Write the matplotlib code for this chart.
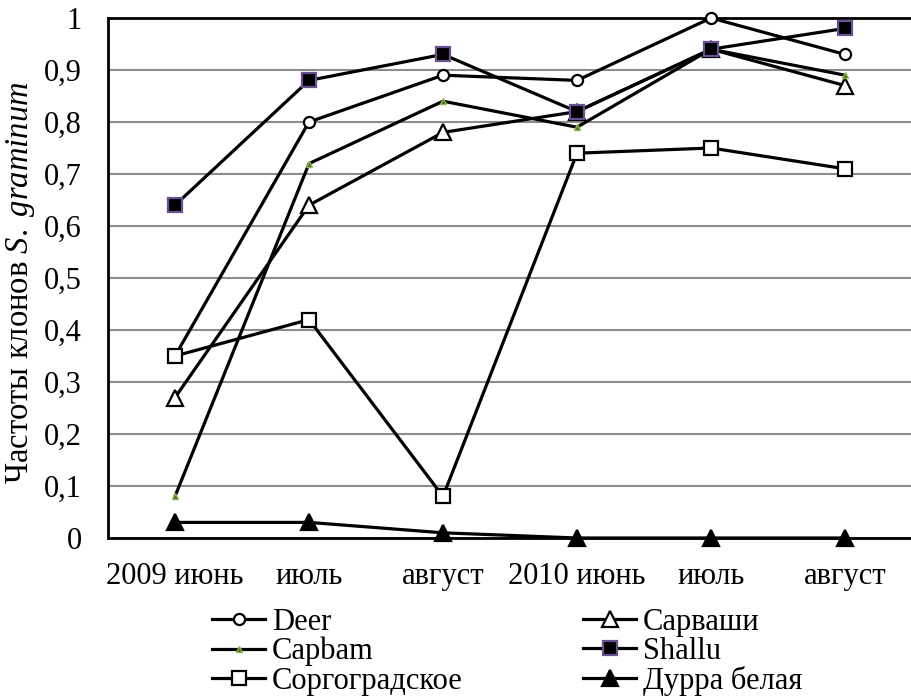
import matplotlib
matplotlib.use("Agg")
import matplotlib.pyplot as plt
from matplotlib.ticker import FixedLocator, FuncFormatter

plt.rcParams['font.family'] = 'serif'
plt.rcParams['font.serif'] = ['Liberation Serif', 'DejaVu Serif']
plt.rcParams['mathtext.fontset'] = 'custom'
plt.rcParams['mathtext.rm'] = 'Liberation Serif'
plt.rcParams['mathtext.it'] = 'Liberation Serif:italic'

categories = ['2009 июнь', 'июль', 'август', '2010 июнь', 'июль', 'август']
deer = [0.35, 0.80, 0.89, 0.88, 1.00, 0.93]
sarvashi = [0.27, 0.64, 0.78, 0.82, 0.94, 0.87]
capbam = [0.08, 0.72, 0.84, 0.79, 0.94, 0.89]
shallu = [0.64, 0.88, 0.93, 0.82, 0.94, 0.98]
sorgo = [0.35, 0.42, 0.08, 0.74, 0.75, 0.71]
durra = [0.03, 0.03, 0.01, 0.00, 0.00, 0.00]
yticks = [0, 0.1, 0.2, 0.3, 0.4, 0.5, 0.6, 0.7, 0.8, 0.9, 1.0]

FS = 22
fig = plt.figure(figsize=(9.12, 6.97), dpi=100)
ax = fig.add_axes([108/912, 1-538/697, 1-108/912, (538-18)/697])
x = list(range(len(categories)))
lw = 2.3

common = dict(color='black', lw=lw, zorder=3, clip_on=False)
l_deer, = ax.plot(x, deer, marker='o', ms=8, mfc='white', mec='black', mew=1.6, label='Deer', **common)
l_sar, = ax.plot(x, sarvashi, marker='^', ms=11, mfc='white', mec='black', mew=1.6, label='Сарваши', **common)
l_cap, = ax.plot(x, capbam, marker='^', ms=4.5, mfc='#4a6a20', mec='#8ab84a', mew=1, label='Capbam', **common)
l_sha, = ax.plot(x, shallu, marker='s', ms=10, mfc='black', mec='#6a5090', mew=1.6, label='Shallu', **common)
l_sor, = ax.plot(x, sorgo, marker='s', ms=10.5, mfc='white', mec='black', mew=1.6, label='Соргоградское', **common)
l_dur, = ax.plot(x, durra, marker='^', ms=11, mfc='black', mec='black', mew=1.6, label='Дурра белая', **common)

ax.set_xlim(-0.5, len(categories) - 0.5)
ax.set_ylim(0, 1)
ax.set_xticks(x)
ax.set_xticklabels(categories)
ax.yaxis.set_major_locator(FixedLocator(yticks))
def fmt(v, pos):
    if abs(v) < 1e-9:
        return '0'
    if abs(v - 1) < 1e-9:
        return '1'
    return ('%.1f' % v).replace('.', ',')
ax.yaxis.set_major_formatter(FuncFormatter(fmt))
ax.tick_params(axis='both', length=0, labelsize=FS)
ax.tick_params(axis='y', pad=19)
ax.tick_params(axis='x', pad=17)
ax.grid(axis='y', color='#8c8c8c', lw=1.5, zorder=0)
ax.set_axisbelow(True)
for s in ['left', 'bottom', 'top']:
    ax.spines[s].set_color('black')
    ax.spines[s].set_linewidth(2.0)
ax.spines['right'].set_visible(False)
ax.set_ylabel('Частоты клонов $S.\\ graminum$', fontsize=23.5)
ax.yaxis.set_label_coords(-(108-37)/804, (538-283)/520)

handles = [l_deer, l_cap, l_sor, l_sar, l_sha, l_dur]
fig.legend(handles=handles, labels=[h.get_label() for h in handles], ncol=2,
           loc='upper left', bbox_to_anchor=(212/912, 1-608/697), frameon=False,
           fontsize=FS, handlelength=1.75, handletextpad=0.2, columnspacing=3.95,
           labelspacing=0.0, borderpad=0, borderaxespad=0)

fig.savefig('out.png', dpi=100)
